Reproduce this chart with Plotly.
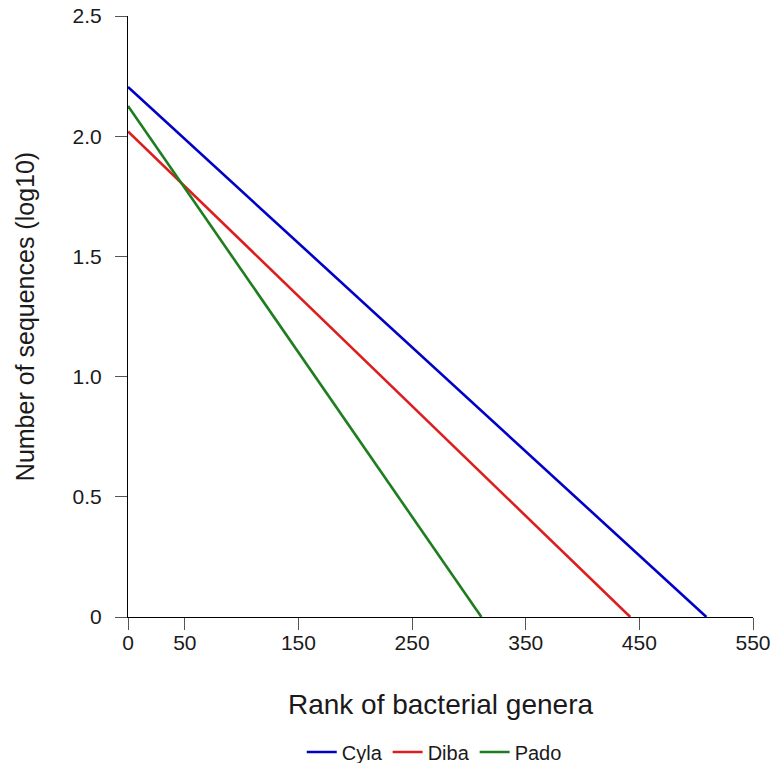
import plotly.graph_objects as go

series_names = ["Cyla", "Diba", "Pado"]
rank_values = [[0, 509], [0, 442], [0, 311]]
log_seq_values = [[2.205, 0.0], [2.02, 0.0], [2.126, 0.0]]
colors = ["#0000C8", "#DD1E1E", "#1E7D1E"]

x_ticks = [0, 50, 150, 250, 350, 450, 550]
y_ticks = [0, 0.5, 1.0, 1.5, 2.0, 2.5]
y_tick_labels = ["0", "0.5", "1.0", "1.5", "2.0", "2.5"]

fig = go.Figure()
for name, xs, ys, c in zip(series_names, rank_values, log_seq_values, colors):
    fig.add_trace(go.Scatter(x=xs, y=ys, mode="lines", name=name,
                             line=dict(color=c, width=2.6)))

font_family = "Liberation Sans, Arial, sans-serif"
fig.update_layout(
    width=774, height=763,
    margin=dict(l=128, r=21, t=16, b=146),
    plot_bgcolor="white", paper_bgcolor="white",
    font=dict(family=font_family, color="#1a1a1a"),
    showlegend=True,
    legend=dict(orientation="h", x=0.49, xanchor="center",
                yref="container", y=0.0144, yanchor="middle",
                font=dict(size=20, family=font_family, color="#1a1a1a"),
                itemwidth=30, tracegroupgap=0),
    xaxis=dict(range=[0, 550], tickvals=x_ticks, showgrid=False, zeroline=False,
               showline=True, linecolor="black", linewidth=1, automargin=False,
               ticks="outside", ticklen=12, tickcolor="#555555", ticklabelstandoff=-5,
               tickfont=dict(size=21),
               title=dict(text="Rank of bacterial genera", font=dict(size=28), standoff=41)),
    yaxis=dict(range=[0, 2.5], tickvals=y_ticks, ticktext=y_tick_labels, showgrid=False,
               zeroline=False, showline=True, linecolor="black", linewidth=1, automargin=False,
               ticks="outside", ticklen=12, tickcolor="#555555", ticklabelstandoff=9,
               tickfont=dict(size=21),
               title=dict(text="Number of sequences (log10)", font=dict(size=25), standoff=30)),
)

fig.write_html("out.html")
